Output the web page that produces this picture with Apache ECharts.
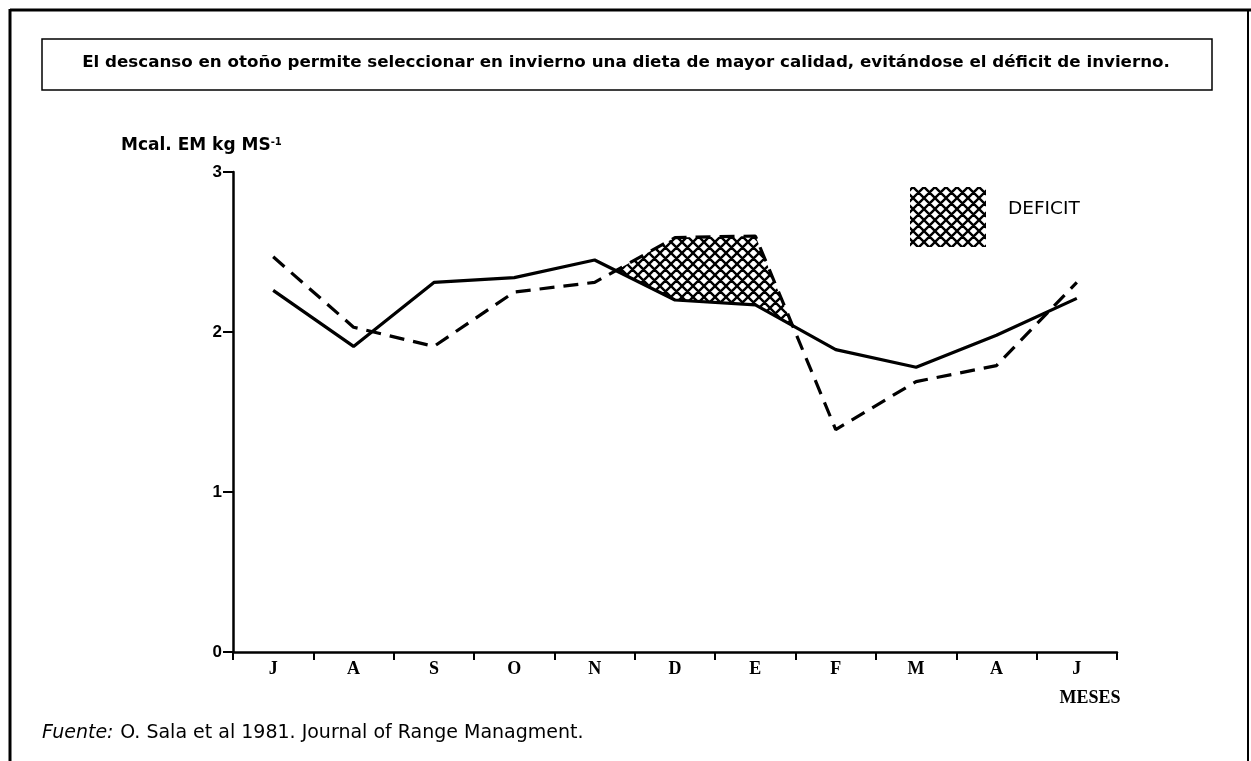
<!DOCTYPE html>
<html>
<head>
<meta charset="utf-8">
<script src="https://cdn.jsdelivr.net/npm/echarts@6/dist/echarts.min.js"></script>
<style>
  html, body { margin: 0; background: #fff; }
  #chart { width: 1251px; height: 761px; }
</style>
</head>
<body>
<div id="chart"></div>
<script>
  // meses de julio a junio
  const months = ['J', 'A', 'S', 'O', 'N', 'D', 'E', 'F', 'M', 'A', 'J']
  // trazo lleno y trazo cortado (Mcal EM / kg MS)
  const solidLine = [2.26, 1.91, 2.31, 2.34, 2.45, 2.20, 2.17, 1.89, 1.78, 1.98, 2.21]
  const dashedLine = [2.47, 2.03, 1.91, 2.25, 2.31, 2.59, 2.60, 1.39, 1.69, 1.79, 2.31]
  const yTicks = [0, 1, 2, 3]
  // zona de deficit: entre N y F
  const deficitFrom = 4
  const deficitTo = 7

  const titleText = 'El descanso en otoño permite seleccionar en invierno una dieta de mayor calidad, evitándose el déficit de invierno.'
  const font = '"DejaVu Sans", "Liberation Sans", Arial, sans-serif'
  const serif = '"Liberation Serif", "Times New Roman", serif'

  const makeHatch = () => {
    const c = document.createElement('canvas')
    c.width = 11
    c.height = 11
    const ctx = c.getContext('2d')
    ctx.strokeStyle = '#000'
    ctx.lineWidth = 2.4
    ctx.beginPath()
    for (const k of [-11, 0, 11]) {
      ctx.moveTo(k, 0); ctx.lineTo(k + 11, 11)
      ctx.moveTo(k + 11, 0); ctx.lineTo(k, 11)
    }
    ctx.stroke()
    return c
  }
  const hatch = { image: makeHatch(), repeat: 'repeat' }

  const crossing = (api, i) => {
    const s0 = api.coord([i, solidLine[i]])
    const s1 = api.coord([i + 1, solidLine[i + 1]])
    const g0 = dashedLine[i] - solidLine[i]
    const g1 = dashedLine[i + 1] - solidLine[i + 1]
    const t = g0 / (g0 - g1)
    return [s0[0] + (s1[0] - s0[0]) * t, s0[1] + (s1[1] - s0[1]) * t]
  }

  const renderDeficit = (params, api) => {
    const pts = [crossing(api, deficitFrom)]
    for (let i = deficitFrom + 1; i < deficitTo; i++) pts.push(api.coord([i, dashedLine[i]]))
    pts.push(crossing(api, deficitTo - 1))
    for (let i = deficitTo - 1; i > deficitFrom; i--) pts.push(api.coord([i, solidLine[i]]))
    return {
      type: 'polygon',
      shape: { points: pts },
      style: { fill: hatch, stroke: null }
    }
  }

  const chart = echarts.init(document.getElementById('chart'))
  chart.setOption({
    backgroundColor: '#fff',
    animation: false,
    grid: { left: 233, right: 134, top: 172, bottom: 109 },
    xAxis: {
      type: 'category',
      data: months,
      boundaryGap: true,
      axisLine: { lineStyle: { color: '#000', width: 2.5 } },
      axisTick: { show: true, length: 8, lineStyle: { color: '#000', width: 2 } },
      axisLabel: { color: '#000', fontFamily: serif, fontWeight: 'bold', fontSize: 18, margin: 8 },
      splitLine: { show: false }
    },
    yAxis: {
      type: 'value',
      min: yTicks[0],
      max: yTicks[yTicks.length - 1],
      interval: 1,
      axisLine: { show: true, lineStyle: { color: '#000', width: 2.5 } },
      axisTick: { show: true, length: 10, lineStyle: { color: '#000', width: 2 } },
      axisLabel: { color: '#000', fontFamily: '"Liberation Sans", Arial, sans-serif', fontWeight: 'bold', fontSize: 17, margin: 11 },
      splitLine: { show: false }
    },
    series: [
      {
        type: 'custom',
        data: [[deficitFrom, 0]],
        encode: { x: 0, y: 1 },
        renderItem: renderDeficit,
        silent: true,
        z: 1
      },
      {
        name: 'solid',
        type: 'line',
        data: solidLine,
        symbol: 'none',
        lineStyle: { color: '#000', width: 3.2 },
        z: 3
      },
      {
        name: 'dashed',
        type: 'line',
        data: dashedLine,
        symbol: 'none',
        lineStyle: { color: '#000', width: 3.2, type: [15, 9] },
        z: 3
      }
    ],
    graphic: [
      // marco exterior
      { type: 'line', shape: { x1: 10, y1: 10, x2: 1251, y2: 10 }, style: { stroke: '#000', lineWidth: 3 } },
      { type: 'line', shape: { x1: 10, y1: 9, x2: 10, y2: 761 }, style: { stroke: '#000', lineWidth: 3 } },
      { type: 'line', shape: { x1: 1248, y1: 9, x2: 1248, y2: 761 }, style: { stroke: '#000', lineWidth: 2 } },
      // recuadro del titulo
      { type: 'rect', shape: { x: 42, y: 39, width: 1170, height: 51 }, style: { fill: '#fff', stroke: '#000', lineWidth: 1.5 } },
      {
        type: 'text', x: 626, y: 63,
        style: { text: titleText, fill: '#000', font: 'bold 16.7px ' + font, textAlign: 'center', textVerticalAlign: 'middle' }
      },
      {
        type: 'text', x: 121, y: 146,
        style: {
          text: '{a|Mcal. EM kg MS}{s|-1}',
          textVerticalAlign: 'middle',
          rich: {
            a: { fontFamily: font, fontWeight: 'bold', fontSize: 17, fill: '#000' },
            s: { fontFamily: font, fontWeight: 'bold', fontSize: 10, fill: '#000', verticalAlign: 'top', padding: [0, 0, 8, 0] }
          }
        }
      },
      // leyenda
      { type: 'rect', shape: { x: 910, y: 187, width: 76, height: 60 }, style: { fill: hatch } },
      {
        type: 'text', x: 1008, y: 209,
        style: { text: 'DEFICIT', fill: '#000', font: '18.5px ' + font, textVerticalAlign: 'middle' }
      },
      {
        type: 'text', x: 1090, y: 698,
        style: { text: 'MESES', fill: '#000', font: 'bold 18px ' + serif, textAlign: 'center', textVerticalAlign: 'middle' }
      },
      {
        type: 'text', x: 42, y: 733,
        style: {
          text: '{i|Fuente:}  {r|O. Sala et al 1981. Journal of Range Managment.}',
          textVerticalAlign: 'middle',
          rich: {
            i: { fontFamily: font, fontStyle: 'italic', fontSize: 19, fill: '#000' },
            r: { fontFamily: font, fontSize: 19, fill: '#000' }
          }
        }
      }
    ]
  })
</script>
</body>
</html>
